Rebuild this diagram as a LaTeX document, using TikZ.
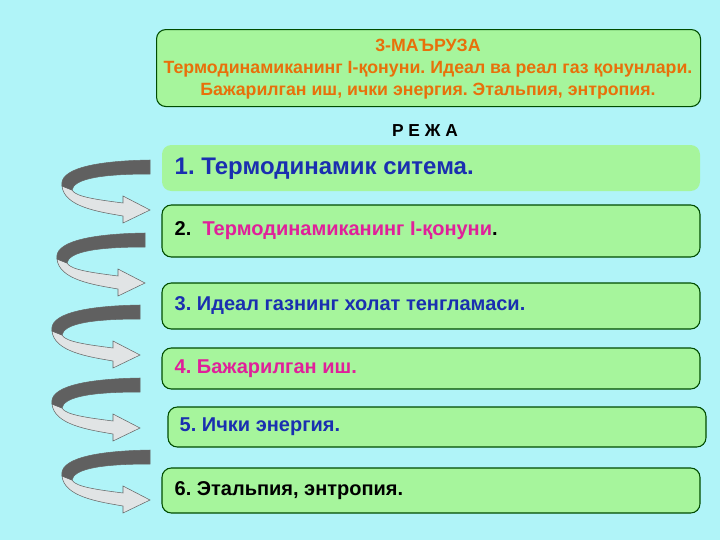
\documentclass[tikz,border=0pt]{standalone}
\usepackage{fontspec}
\setmainfont{Liberation Sans}
\begin{document}
\frenchspacing
\begin{tikzpicture}[x=0.75pt,y=-0.75pt,
 box/.style={draw=black!70!green,line width=0.8pt,rounded corners=7pt,fill=boxg},
 t/.style={anchor=west,font=\bfseries\fontsize{15}{18}\selectfont},
 dk/.style={fill=gray!75!black,draw=black!60,line width=0.4pt},
 lt/.style={fill=cyan!8!gray!25,draw=black!60,line width=0.4pt}]
\definecolor{boxg}{HTML}{A6F59C}
\definecolor{bg}{HTML}{B0F4F8}
\definecolor{org}{HTML}{E8700A}
\definecolor{dblue}{HTML}{1A2FB0}
\definecolor{mag}{HTML}{E0209A}
\fill[bg] (0,0) rectangle (720,540);
\useasboundingbox (0,0) rectangle (720,540);
\node[box,minimum width=544pt*0.75,minimum height=77*0.75pt,anchor=north west] (title) at (156,29) {};
\node[font=\bfseries\fontsize{13.3}{16.5}\selectfont,text=org,align=center] (tt) at (428,69)
 {3-МАЪРУЗА\\Термодинамиканинг І-қонуни. Идеал ва реал газ қонунлари.\\Бажарилган иш, ички энергия. Этальпия, энтропия.};
\node[font=\bfseries\fontsize{13}{15}\selectfont] (rj) at (425,131) {Р Е Ж А};
\path[box,draw=none,fill=boxg] (162,145) rectangle (700,191);
\node[t,font=\bfseries\fontsize{18}{21}\selectfont,text=dblue] (b1) at (170,169) {1. Термодинамик ситема.};
\draw[box] (162,205) rectangle (700,257);
\node[t] (b2) at (170,231) {2.\ \ \textcolor{mag}{Термодинамиканинг І-қонуни}.};
\draw[box] (162,283) rectangle (700,329);
\node[t,text=dblue] (b3) at (170,306) {3. Идеал газнинг холат тенгламаси.};
\draw[box] (162,348) rectangle (700,389);
\node[t,text=mag] (b4) at (170,369) {4. Бажарилган иш.};
\draw[box] (168,407) rectangle (706,447);
\node[t,text=dblue] (b5) at (175,427) {5. Ички энергия.};
\draw[box] (162,468) rectangle (700,513);
\node[t] (b6) at (170,491) {6. Этальпия, энтропия.};
\foreach \x/\y in {150/160,145/233,140/305,140/378,150/450}{
 \begin{scope}[shift={(\x,\y)}]
 \path[lt] (-88,26) .. controls (-86,47) and (-50,52) .. (-27,56) -- (-27,63) -- (0,50) -- (-27,36) -- (-27,43)
   .. controls (-50,40) and (-75,37) .. (-78,30) -- cycle;
 \path[dk] (0,0) -- (0,14) .. controls (-55,14) and (-76,20) .. (-78,30) -- (-88,26) .. controls (-91,10) and (-60,1) .. (0,0) -- cycle;
 \end{scope}}
\end{tikzpicture}
\end{document}
